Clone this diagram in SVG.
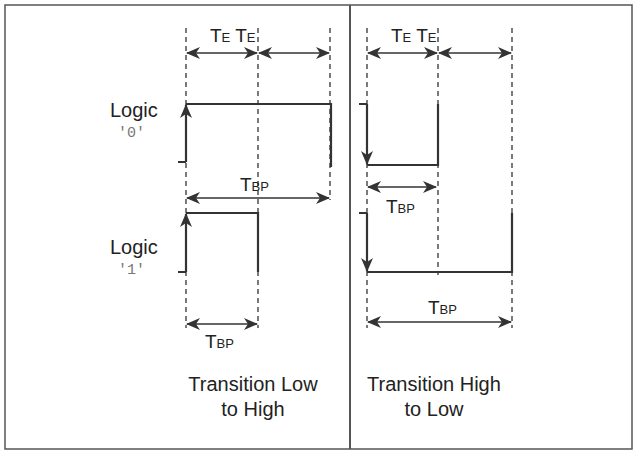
<svg xmlns="http://www.w3.org/2000/svg" width="637" height="454" viewBox="0 0 637 454">
<style>
text{font-family:"Liberation Sans",Arial,sans-serif;fill:#222}
.t{font-size:19px}.s{font-size:13px}.lbl{font-size:20px}.q{font-family:"Liberation Mono",monospace;font-size:15px;fill:#777}
.dash{stroke:#333;stroke-width:1.3;stroke-dasharray:5,4;fill:none}
.w{stroke:#333;stroke-width:2.2;fill:none}
.a{stroke:#333;stroke-width:1.5;fill:none;marker-start:url(#h);marker-end:url(#h)}
.ar{stroke:#333;stroke-width:2.2;fill:none;marker-end:url(#h2)}
</style>
<defs>
<marker id="h" viewBox="0 0 14 12" refX="13" refY="6" markerWidth="14" markerHeight="12" markerUnits="userSpaceOnUse" orient="auto-start-reverse"><path d="M0,0 L14,6 L0,12 L4,6 Z" fill="#333"/></marker>
<marker id="h2" viewBox="0 0 14 12" refX="13" refY="6" markerWidth="14" markerHeight="12" markerUnits="userSpaceOnUse" orient="auto"><path d="M0,0 L14,6 L0,12 L4,6 Z" fill="#333"/></marker>
</defs>
<rect x="5" y="5" width="627" height="444" fill="#fff" stroke="#555" stroke-width="1.5"/>
<line x1="350" y1="5" x2="350" y2="449" stroke="#555" stroke-width="2"/>
<g id="guides">
<line class="dash" x1="186" y1="28" x2="186" y2="328"/>
<line class="dash" x1="258" y1="28" x2="258" y2="328"/>
<line class="dash" x1="330" y1="28" x2="330" y2="200"/>
<line class="dash" x1="367" y1="28" x2="367" y2="328"/>
<line class="dash" x1="438" y1="28" x2="438" y2="275"/>
<line class="dash" x1="512" y1="28" x2="512" y2="328"/>
</g>
<g id="connectors">
<line class="a" x1="187" y1="53" x2="257" y2="53"/>
<line class="a" x1="259" y1="53" x2="329" y2="53"/>
<line class="a" x1="187" y1="198" x2="329" y2="198"/>
<line class="a" x1="187" y1="324" x2="257" y2="324"/>
<line class="a" x1="368" y1="53" x2="437" y2="53"/>
<line class="a" x1="439" y1="53" x2="511" y2="53"/>
<line class="a" x1="368" y1="187" x2="436" y2="187"/>
<line class="a" x1="368" y1="322" x2="511" y2="322"/>
</g>
<g id="logic0">
<path class="w" d="M178,162 H186 M186,104 H331 V167"/>
<line class="ar" x1="186" y1="162" x2="186" y2="105"/>
<text class="lbl" x="110" y="117">Logic</text><text class="q" x="118" y="137">'0'</text>
</g>
<g id="logic1">
<path class="w" d="M178,272 H186 M186,213 H258 V272"/>
<line class="ar" x1="186" y1="272" x2="186" y2="214"/>
<text class="lbl" x="110" y="254">Logic</text><text class="q" x="118" y="274">'1'</text>
</g>
<g id="hl1">
<path class="w" d="M359,104 H367 M367,165 H438 V104"/>
<line class="ar" x1="367" y1="104" x2="367" y2="164"/>
</g>
<g id="hl2">
<path class="w" d="M359,213 H367 M367,272 H512 V213"/>
<line class="ar" x1="367" y1="213" x2="367" y2="271"/>
</g>
<g id="labels">
<text x="210" y="42"><tspan class="t">T</tspan><tspan class="s">E</tspan><tspan class="t"> T</tspan><tspan class="s">E</tspan></text>
<text x="391" y="42"><tspan class="t">T</tspan><tspan class="s">E</tspan><tspan class="t"> T</tspan><tspan class="s">E</tspan></text>
<text x="240" y="191"><tspan class="t">T</tspan><tspan class="s">BP</tspan></text>
<text x="205" y="348"><tspan class="t">T</tspan><tspan class="s">BP</tspan></text>
<text x="386" y="213"><tspan class="t">T</tspan><tspan class="s">BP</tspan></text>
<text x="428" y="314"><tspan class="t">T</tspan><tspan class="s">BP</tspan></text>
<text class="lbl" x="253" y="391" text-anchor="middle">Transition Low</text>
<text class="lbl" x="253" y="416" text-anchor="middle">to High</text>
<text class="lbl" x="434" y="391" text-anchor="middle">Transition High</text>
<text class="lbl" x="434" y="416" text-anchor="middle">to Low</text>
</g>
</svg>
